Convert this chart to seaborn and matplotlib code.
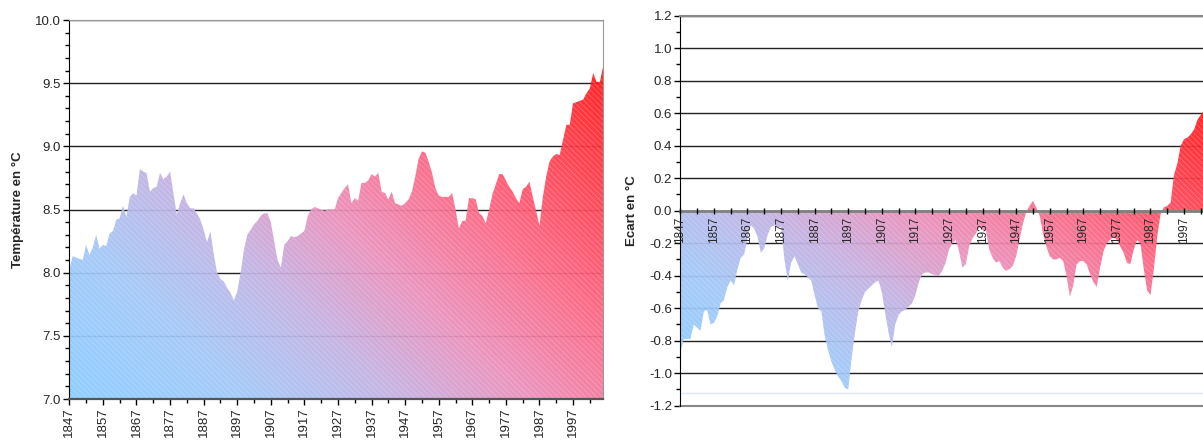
import numpy as np
import pandas as pd
import seaborn as sns
import matplotlib
matplotlib.use("Agg")
import matplotlib.pyplot as plt
from matplotlib.colors import LinearSegmentedColormap
from matplotlib.ticker import MultipleLocator, FixedLocator, FormatStrFormatter

# Température moyenne (moyenne glissante), 1847-2006
annees_temp = np.arange(1847, 2007)
temperature = [
    8.02, 8.13, 8.12, 8.11, 8.10, 8.22, 8.14, 8.20, 8.30, 8.19,
    8.22, 8.21, 8.31, 8.33, 8.42, 8.43, 8.53, 8.44, 8.60, 8.63,
    8.61, 8.82, 8.80, 8.79, 8.64, 8.67, 8.68, 8.79, 8.74, 8.76,
    8.80, 8.63, 8.46, 8.55, 8.62, 8.55, 8.51, 8.51, 8.47, 8.42,
    8.34, 8.24, 8.33, 8.15, 8.00, 7.95, 7.93, 7.88, 7.84, 7.78,
    7.85, 8.00, 8.18, 8.30, 8.34, 8.38, 8.41, 8.45, 8.47, 8.47,
    8.40, 8.25, 8.10, 8.04, 8.22, 8.25, 8.29, 8.28, 8.29, 8.31,
    8.33, 8.45, 8.50, 8.52, 8.51, 8.50, 8.49, 8.50, 8.50, 8.50,
    8.59, 8.63, 8.67, 8.70, 8.55, 8.59, 8.57, 8.71, 8.71, 8.73,
    8.78, 8.76, 8.79, 8.64, 8.63, 8.58, 8.64, 8.55, 8.54, 8.53,
    8.55, 8.58, 8.64, 8.76, 8.90, 8.96, 8.95, 8.88, 8.79, 8.67,
    8.61, 8.60, 8.60, 8.60, 8.63, 8.50, 8.35, 8.41, 8.41, 8.59,
    8.59, 8.58, 8.47, 8.45, 8.39, 8.50, 8.62, 8.70, 8.78, 8.78,
    8.73, 8.68, 8.64, 8.59, 8.55, 8.66, 8.68, 8.72, 8.60, 8.49,
    8.37, 8.60, 8.76, 8.88, 8.92, 8.94, 8.93, 9.05, 9.17, 9.17,
    9.34, 9.35, 9.36, 9.37, 9.42, 9.46, 9.58, 9.51, 9.51, 9.64,
]

# Ecart de température, 1847-2003 (le reste est coupé par le bord)
annees_ecart = np.arange(1847, 2004)
ecart = [
    -0.88, -0.79, -0.79, -0.79, -0.70, -0.72, -0.74, -0.62, -0.61, -0.70,
    -0.69, -0.65, -0.57, -0.55, -0.47, -0.43, -0.46, -0.36, -0.29, -0.27,
    -0.17, -0.09, -0.11, -0.16, -0.26, -0.23, -0.15, -0.10, -0.09, -0.10,
    -0.10, -0.30, -0.43, -0.32, -0.28, -0.33, -0.38, -0.39, -0.41, -0.43,
    -0.52, -0.60, -0.62, -0.77, -0.86, -0.93, -0.98, -1.02, -1.05, -1.09,
    -1.10, -0.91, -0.75, -0.62, -0.55, -0.50, -0.48, -0.46, -0.44, -0.43,
    -0.50, -0.63, -0.75, -0.84, -0.70, -0.64, -0.62, -0.61, -0.59, -0.57,
    -0.52, -0.44, -0.39, -0.38, -0.38, -0.39, -0.40, -0.40, -0.37, -0.32,
    -0.24, -0.20, -0.18, -0.25, -0.35, -0.33, -0.22, -0.17, -0.14, -0.10,
    -0.12, -0.12, -0.24, -0.29, -0.32, -0.31, -0.35, -0.37, -0.36, -0.34,
    -0.28, -0.18, -0.08, -0.01, 0.03, 0.06, 0.02, -0.03, -0.14, -0.22,
    -0.28, -0.30, -0.30, -0.29, -0.31, -0.40, -0.53, -0.46, -0.33, -0.31,
    -0.31, -0.33, -0.39, -0.44, -0.47, -0.35, -0.25, -0.20, -0.18, -0.16,
    -0.18, -0.22, -0.26, -0.32, -0.33, -0.24, -0.18, -0.20, -0.36, -0.49,
    -0.52, -0.36, -0.16, -0.02, 0.02, 0.03, 0.05, 0.22, 0.29, 0.40,
    0.44, 0.45, 0.47, 0.50, 0.56, 0.59, 0.62,
]

annees_ticks = list(range(1847, 2007, 10))

df_temp = pd.DataFrame({"annee": annees_temp, "valeur": temperature})
df_ecart = pd.DataFrame({"annee": annees_ecart, "valeur": ecart})

sns.set_style("ticks")
plt.rcParams["font.family"] = ["Liberation Sans", "DejaVu Sans"]
plt.rcParams["hatch.linewidth"] = 0.5

# dégradé diagonal bleu clair -> rouge
degrade = LinearSegmentedColormap.from_list(
    "degrade",
    [(0.0, "#88ccff"), (0.2, "#a0c6f8"), (0.36, "#c0b2e4"),
     (0.52, "#ea8eba"), (0.72, "#ff5c78"), (1.0, "#ff1414")],
)


def remplir_degrade(ax, df, base, xlim, ylim, poids_x=0.6):
    sns.lineplot(data=df, x="annee", y="valeur", ax=ax, lw=0, color="white")
    poly = ax.fill_between(df["annee"], base, df["valeur"],
                           facecolor="none", edgecolor="none")
    # le dégradé couvre la boîte englobante de la série
    y_bas = min(base, df["valeur"].min())
    y_haut = max(base, df["valeur"].max())
    xx, yy = np.meshgrid(np.linspace(0, 1, 500), np.linspace(0, 1, 250))
    t = poids_x * xx + (1 - poids_x) * yy
    img = ax.imshow(t, cmap=degrade, vmin=0, vmax=1, origin="lower",
                    extent=[xlim[0], xlim[1], y_bas, y_haut],
                    aspect="auto", zorder=2, alpha=0.93,
                    interpolation="bilinear")
    img.set_clip_path(poly.get_paths()[0], ax.transData)
    ax.fill_between(df["annee"], base, df["valeur"], facecolor="none",
                    edgecolor="white", hatch="\\\\\\\\\\\\", linewidth=0,
                    alpha=0.28, zorder=3)
    ax.set_xlim(*xlim)
    ax.set_ylim(*ylim)


fig = plt.figure(figsize=(12.03, 4.4), dpi=100)

# ---- graphique de gauche : température
ax1 = fig.add_axes([69.3 / 1203, 41 / 440, 534 / 1203, 379 / 440])
remplir_degrade(ax1, df_temp, 7.0, (1847, 2006), (7.0, 10.0))
ax1.yaxis.set_major_locator(MultipleLocator(0.5))
ax1.yaxis.set_minor_locator(MultipleLocator(0.1))
ax1.yaxis.set_major_formatter(FormatStrFormatter("%.1f"))
ax1.xaxis.set_major_locator(FixedLocator(annees_ticks))
ax1.xaxis.set_minor_locator(FixedLocator(range(1852, 2007, 10)))
ax1.set_xticklabels([str(a) for a in annees_ticks])
ax1.tick_params(axis="both", which="major", labelsize=9.5, length=4,
                width=1, color="black", pad=2)
ax1.tick_params(axis="both", which="minor", length=3, width=1, color="black")
ax1.tick_params(axis="x", labelrotation=90)
ax1.grid(axis="y", color="#222222", lw=1.0)
ax1.set_axisbelow(True)
ax1.set_xlabel("")
ax1.set_ylabel("Température en °C", fontsize=9.5, fontweight="bold", labelpad=8)
ax1.spines["left"].set_color("black")
ax1.spines["bottom"].set_color("#555555")
ax1.spines["bottom"].set_linewidth(1.6)
ax1.spines["top"].set_color("#999999")
ax1.spines["right"].set_color("#999999")
for s in ax1.spines.values():
    s.set_zorder(5)

# ---- graphique de droite : écart
ax2 = fig.add_axes([680.3 / 1203, 34.3 / 440, 534 / 1203, 390 / 440])
remplir_degrade(ax2, df_ecart, 0.0, (1847, 2006), (-1.2, 1.2), poids_x=0.55)
ax2.axhline(min(ecart) - 0.02, color="#dde6f6", lw=1.0, zorder=1)
ax2.axhline(-1.2, color="#888888", lw=1.5, zorder=1, clip_on=False)
ax2.yaxis.set_major_locator(MultipleLocator(0.2))
ax2.yaxis.set_minor_locator(MultipleLocator(0.1))
ax2.yaxis.set_major_formatter(FormatStrFormatter("%.1f"))
ax2.xaxis.set_major_locator(FixedLocator(annees_ticks))
ax2.xaxis.set_minor_locator(FixedLocator(range(1852, 2007, 10)))
ax2.set_xticklabels([str(a) for a in annees_ticks])
ax2.spines["bottom"].set_position(("data", 0))
ax2.spines["bottom"].set_color("#808080")
ax2.spines["bottom"].set_linewidth(2.0)
ax2.spines["right"].set_visible(False)
ax2.spines["top"].set_color("#888888")
ax2.spines["top"].set_linewidth(1.5)
ax2.spines["left"].set_color("black")
for s in ax2.spines.values():
    s.set_zorder(5)
ax2.tick_params(axis="y", which="major", labelsize=9.5, length=4, width=1,
                color="black", pad=2)
ax2.tick_params(axis="y", which="minor", length=3, width=1, color="black")
ax2.tick_params(axis="x", which="major", labelsize=8.5, length=5, width=1,
                color="black", direction="inout", pad=2)
ax2.tick_params(axis="x", which="minor", length=4, width=1, color="black",
                direction="inout")
ax2.tick_params(axis="x", labelrotation=90)
ax2.grid(axis="y", color="#222222", lw=1.0)
ax2.set_axisbelow(True)
ax2.xaxis.set_zorder(6)
ax2.set_xlabel("")
ax2.set_ylabel("Ecart en °C", fontsize=9.5, fontweight="bold", labelpad=8)

fig.savefig("out.png", dpi=100)
